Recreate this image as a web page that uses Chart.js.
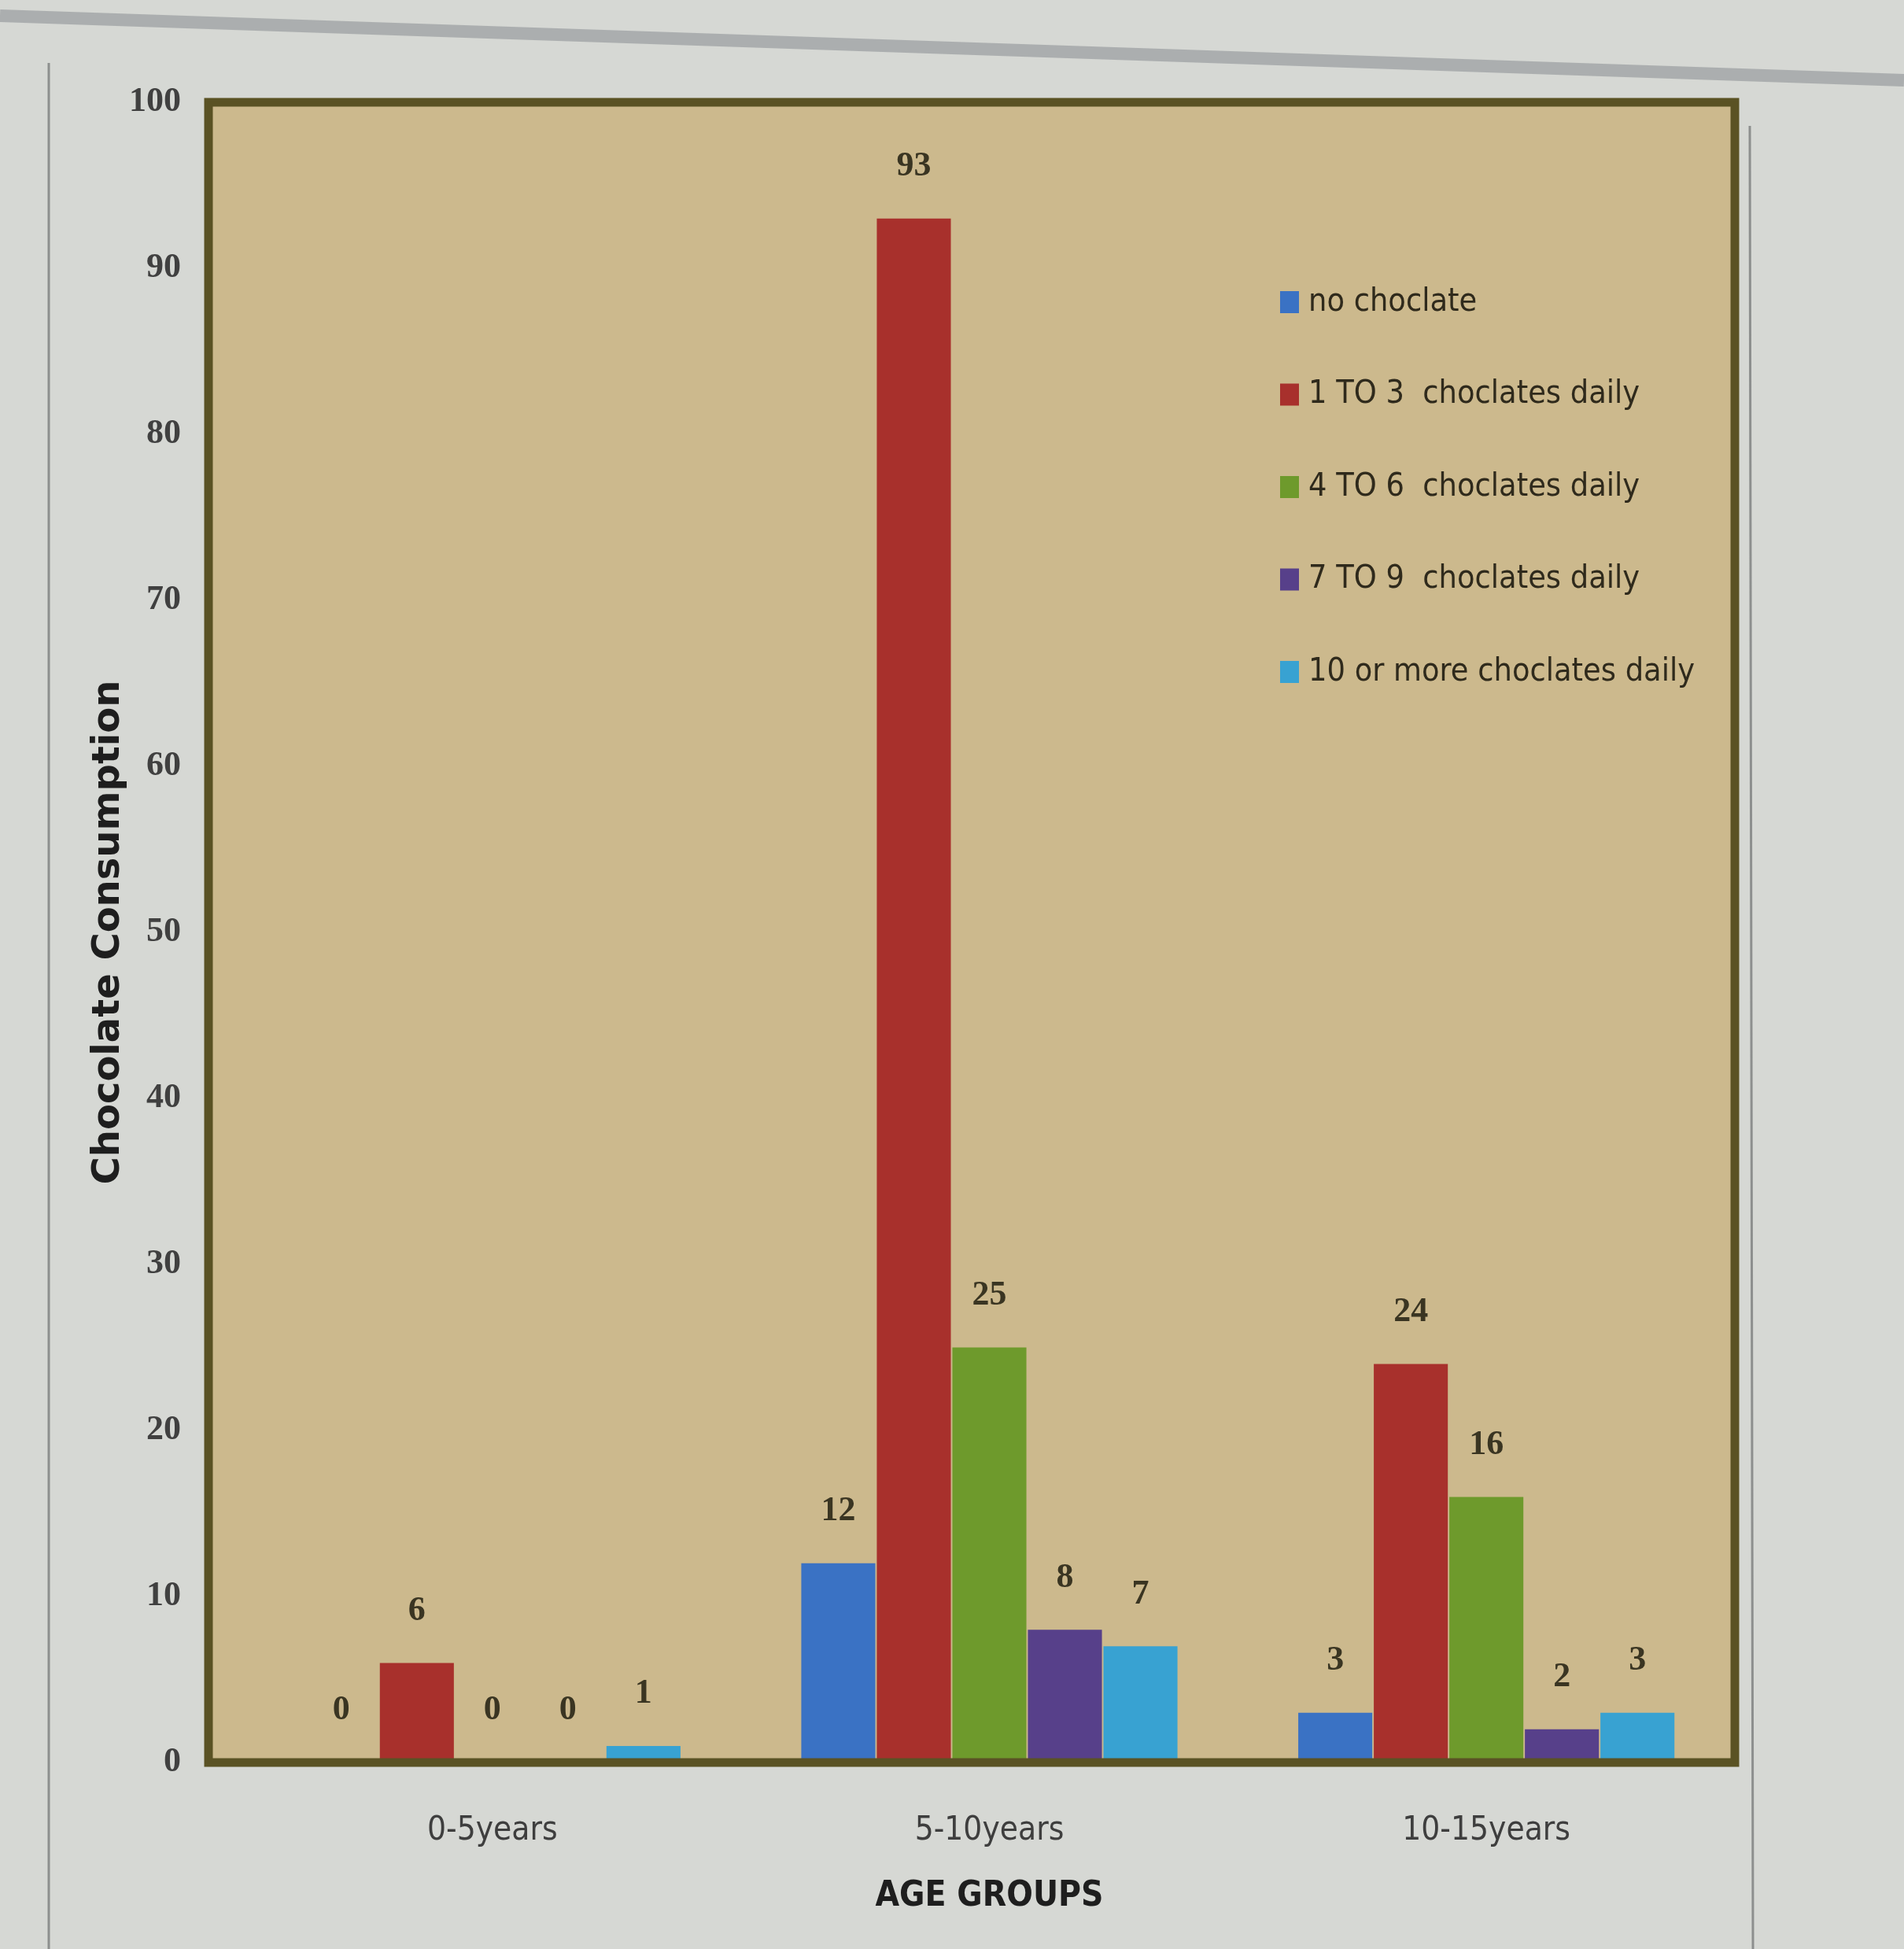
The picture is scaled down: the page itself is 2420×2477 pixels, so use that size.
<!DOCTYPE html>
<html>
<head>
<meta charset="utf-8">
<script src="https://cdn.jsdelivr.net/npm/chart.js@4.4.1/dist/chart.umd.min.js"></script>
<style>
  html, body { margin: 0; padding: 0; background: #d6d8d4; }
  canvas { display: block; }
</style>
</head>
<body>
<canvas id="chart" width="2420" height="2477"></canvas>
<script>
// Age groups on the x axis
const ageGroups = ['0-5years', '5-10years', '10-15years'];

// Number of children in each consumption band, per age group
const noChoclate  = [0, 12, 3];
const oneToThree  = [6, 93, 24];
const fourToSix   = [0, 25, 16];
const sevenToNine = [0, 8, 2];
const tenOrMore   = [1, 7, 3];

const seriesNames = [
  'no choclate',
  '1 TO 3  choclates daily',
  '4 TO 6  choclates daily',
  '7 TO 9  choclates daily',
  '10 or more choclates daily'
];
const seriesColors = ['#3a72c4', '#a8302c', '#6e9a2c', '#57408a', '#38a2d2'];

// Y axis ticks
const yMin = 0, yMax = 100, yStep = 10;

const PLOT_BG = '#ccb98d';
const FRAME = '#5a5224';

// Page background, plot fill and the olive frame round the plot
const framePlugin = {
  id: 'frame',
  beforeDraw(chart) {
    const { ctx, width, height } = chart;
    ctx.save();
    ctx.fillStyle = '#d6d8d4';
    ctx.fillRect(0, 0, width, height);
    // faint page edges
    ctx.strokeStyle = 'rgba(120,124,130,0.45)';
    ctx.lineWidth = 16;
    ctx.beginPath();
    ctx.moveTo(0, 20);
    ctx.lineTo(width, 102);
    ctx.stroke();
    ctx.lineWidth = 3;
    ctx.strokeStyle = 'rgba(110,112,112,0.7)';
    ctx.beginPath();
    ctx.moveTo(62, 80);
    ctx.lineTo(62, height);
    ctx.moveTo(2224, 160);
    ctx.lineTo(2228, height);
    ctx.stroke();
    ctx.restore();
  },
  beforeDatasetsDraw(chart) {
    const { ctx, chartArea: a } = chart;
    ctx.save();
    ctx.fillStyle = PLOT_BG;
    ctx.fillRect(a.left - 45, a.top, a.right - a.left + 45, a.bottom - a.top);
    ctx.restore();
  },
  afterDatasetsDraw(chart) {
    const { ctx, chartArea: a } = chart;
    ctx.save();
    ctx.strokeStyle = FRAME;
    ctx.lineWidth = 11;
    ctx.strokeRect(a.left - 45, a.top, a.right - a.left + 45, a.bottom - a.top);
    ctx.restore();
  }
};

// Value written above every bar
const valueLabels = {
  id: 'valueLabels',
  afterDatasetsDraw(chart) {
    const { ctx } = chart;
    ctx.save();
    ctx.font = 'bold 44px "Liberation Serif", serif';
    ctx.fillStyle = '#3a3522';
    ctx.textAlign = 'center';
    ctx.textBaseline = 'middle';
    chart.data.datasets.forEach((ds, i) => {
      chart.getDatasetMeta(i).data.forEach((bar, j) => {
        ctx.fillText(String(ds.data[j]), bar.x, bar.y - 66);
      });
    });
    ctx.restore();
  }
};

// Legend list inside the plot, top right
const innerLegend = {
  id: 'innerLegend',
  afterDraw(chart) {
    const { ctx, chartArea: a } = chart;
    const x = a.left + 1317;
    let y = a.top + 254;
    ctx.save();
    ctx.font = '41px "Liberation Sans Narrow", "DejaVu Sans Condensed", "Roboto", sans-serif';
    ctx.textBaseline = 'middle';
    ctx.textAlign = 'left';
    chart.data.datasets.forEach(ds => {
      ctx.fillStyle = ds.backgroundColor;
      ctx.fillRect(x, y - 14, 24, 28);
      ctx.fillStyle = '#2f2a1c';
      ctx.fillText(ds.label, x + 36, y);
      y += 117.5;
    });
    ctx.restore();
  }
};

const datasets = [noChoclate, oneToThree, fourToSix, sevenToNine, tenOrMore].map((vals, i) => ({
  label: seriesNames[i],
  data: vals,
  backgroundColor: seriesColors[i],
  borderWidth: 0,
  categoryPercentage: 0.76,
  barPercentage: 0.98
}));

new Chart(document.getElementById('chart'), {
  type: 'bar',
  data: { labels: ageGroups, datasets },
  plugins: [framePlugin, valueLabels, innerLegend],
  options: {
    responsive: false,
    animation: false,
    layout: { padding: { left: 0, right: 215, top: 130, bottom: 0 } },
    plugins: {
      legend: { display: false },
      tooltip: { enabled: false }
    },
    scales: {
      x: {
        grid: { display: false, drawTicks: false },
        border: { display: false },
        ticks: {
          color: '#3e3e3e',
          padding: 62,
          font: { family: '"Liberation Sans Narrow", "DejaVu Sans Condensed", sans-serif', size: 42 }
        },
        title: {
          display: true,
          text: 'AGE GROUPS',
          color: '#1e1e1e',
          padding: { top: 0, bottom: 40 },
          font: { family: '"Liberation Sans Narrow", "DejaVu Sans Condensed", sans-serif', size: 44, weight: 'bold' }
        },
        afterFit(scale) { scale.height = 237; }
      },
      y: {
        min: yMin,
        max: yMax,
        grid: { display: false, drawTicks: false },
        border: { display: false },
        ticks: {
          stepSize: yStep,
          color: '#404040',
          padding: 80,
          font: { family: '"Liberation Serif", serif', size: 44, weight: 'bold' }
        },
        title: {
          display: true,
          text: 'Chocolate Consumption',
          color: '#1e1e1e',
          padding: { top: 110, bottom: 0 },
          font: { family: '"DejaVu Sans", sans-serif', size: 48, weight: 'bold' }
        },
        afterFit(scale) { scale.width = 310; }
      }
    }
  }
});
</script>
</body>
</html>
